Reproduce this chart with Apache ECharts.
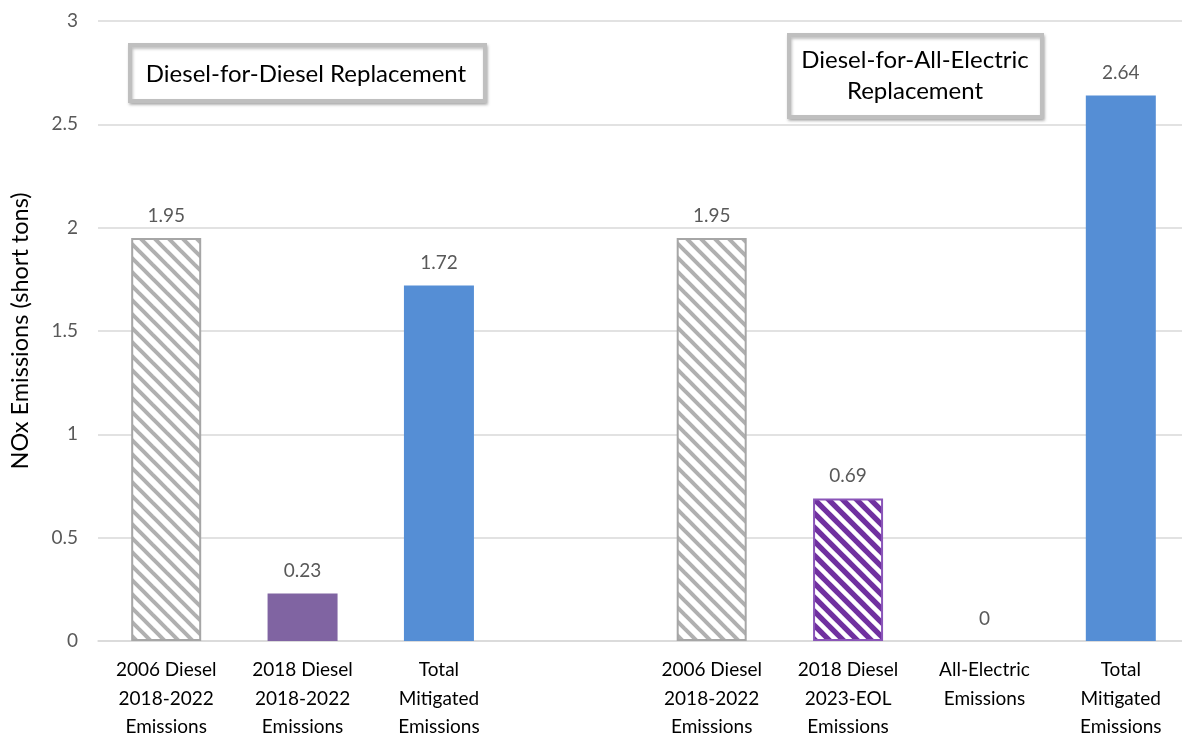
<!DOCTYPE html>
<html>
<head>
<meta charset="utf-8">
<script src="https://cdn.jsdelivr.net/npm/echarts@6/dist/echarts.min.js"></script>
<style>
  html, body { margin: 0; padding: 0; background: #fff; }
  #chart { width: 1182px; height: 741px; }
</style>
</head>
<body>
<div id="chart"></div>
<script>
// Category labels (an empty slot separates the two replacement scenarios)
const categories = [
  '2006 Diesel\n2018-2022\nEmissions',
  '2018 Diesel\n2018-2022\nEmissions',
  'Total\nMitigated\nEmissions',
  '',
  '2006 Diesel\n2018-2022\nEmissions',
  '2018 Diesel\n2023-EOL\nEmissions',
  'All-Electric\nEmissions',
  'Total\nMitigated\nEmissions'
];
// NOx emissions, short tons
const values = [1.95, 0.23, 1.72, null, 1.95, 0.69, 0, 2.64];
// Fill kind of each bar
const fills = ['grayHatch', 'purple', 'blue', 'none', 'grayHatch', 'purpleHatch', 'blue', 'blue'];
const yTicks = [0, 0.5, 1, 1.5, 2, 2.5, 3];
const boxTitles = ['Diesel-for-Diesel Replacement', 'Diesel-for-All-Electric\nReplacement'];

const FONT = 'Lato, "Open Sans", sans-serif';

// Diagonal stripe pattern ("\" direction)
function stripes(bg, fg, period, lw) {
  const c = document.createElement('canvas');
  c.width = period; c.height = period;
  const g = c.getContext('2d');
  g.fillStyle = bg; g.fillRect(0, 0, period, period);
  g.strokeStyle = fg; g.lineWidth = lw;
  for (let k = -1; k <= 1; k++) {
    g.beginPath();
    g.moveTo(k * period - 2, -2);
    g.lineTo(k * period + period + 2, period + 2);
    g.stroke();
  }
  return { image: c, repeat: 'repeat' };
}

const styles = {
  grayHatch: { color: stripes('#ffffff', '#b0b0b0', 14, 4), borderColor: '#a6a6a6', borderWidth: 2 },
  purpleHatch: { color: stripes('#7030a0', '#ffffff', 14, 4.5), borderColor: '#8a55b8', borderWidth: 2 },
  purple: { color: '#8064a2' },
  blue: { color: '#558ed5' },
  none: { color: 'transparent' }
};

const seriesData = values.map((v, i) => ({
  value: v,
  itemStyle: styles[fills[i]]
}));

const chart = echarts.init(document.getElementById('chart'), null, { renderer: 'canvas' });

chart.setOption({
  animation: false,
  backgroundColor: '#ffffff',
  grid: { left: 98, top: 21, width: 1091, height: 620, outerBoundsMode: 'none', containLabel: false },
  xAxis: {
    type: 'category',
    data: categories,
    axisLine: { show: true, lineStyle: { color: '#d9d9d9', width: 1.5 } },
    axisTick: { show: false },
    axisLabel: {
      interval: 0,
      color: '#000000',
      fontFamily: FONT,
      fontSize: 19,
      lineHeight: 28.5,
      margin: 15
    }
  },
  yAxis: {
    type: 'value',
    min: yTicks[0],
    max: yTicks[yTicks.length - 1],
    interval: 0.5,
    name: 'NOx Emissions (short tons)',
    nameLocation: 'middle',
    nameGap: 66,
    nameTextStyle: { color: '#000000', fontFamily: FONT, fontSize: 23.5 },
    axisLine: { show: false },
    axisTick: { show: false },
    splitLine: { lineStyle: { color: '#d9d9d9', width: 1.5 } },
    axisLabel: {
      color: '#595959',
      fontFamily: FONT,
      fontSize: 19,
      margin: 20,
      formatter: v => String(v)
    }
  },
  series: [{
    type: 'bar',
    data: seriesData,
    barWidth: 70,
    label: {
      show: true,
      position: 'top',
      distance: 13,
      color: '#595959',
      fontFamily: FONT,
      fontSize: 19,
      formatter: p => (p.value === null || p.value === undefined) ? '' : String(p.value)
    }
  }],
  graphic: [
    {
      type: 'group',
      left: 128, top: 43,
      children: [
        { type: 'rect', shape: { x: 0, y: 0, width: 355, height: 56 },
          style: { fill: '#ffffff', stroke: '#bfbfbf', lineWidth: 4,
                   shadowColor: 'rgba(0,0,0,0.25)', shadowBlur: 3, shadowOffsetX: 1, shadowOffsetY: 2 } },
        { type: 'text', x: 176, y: 29,
          style: { text: boxTitles[0], fill: '#000000', font: '24px ' + FONT, align: 'center', verticalAlign: 'middle' } }
      ]
    },
    {
      type: 'group',
      left: 787, top: 33,
      children: [
        { type: 'rect', shape: { x: 0, y: 0, width: 253, height: 82 },
          style: { fill: '#ffffff', stroke: '#bfbfbf', lineWidth: 4,
                   shadowColor: 'rgba(0,0,0,0.25)', shadowBlur: 3, shadowOffsetX: 1, shadowOffsetY: 2 } },
        { type: 'text', x: 126, y: 41,
          style: { text: boxTitles[1], fill: '#000000', font: '24px ' + FONT, lineHeight: 31, align: 'center', verticalAlign: 'middle' } }
      ]
    }
  ]
});
</script>
</body>
</html>
